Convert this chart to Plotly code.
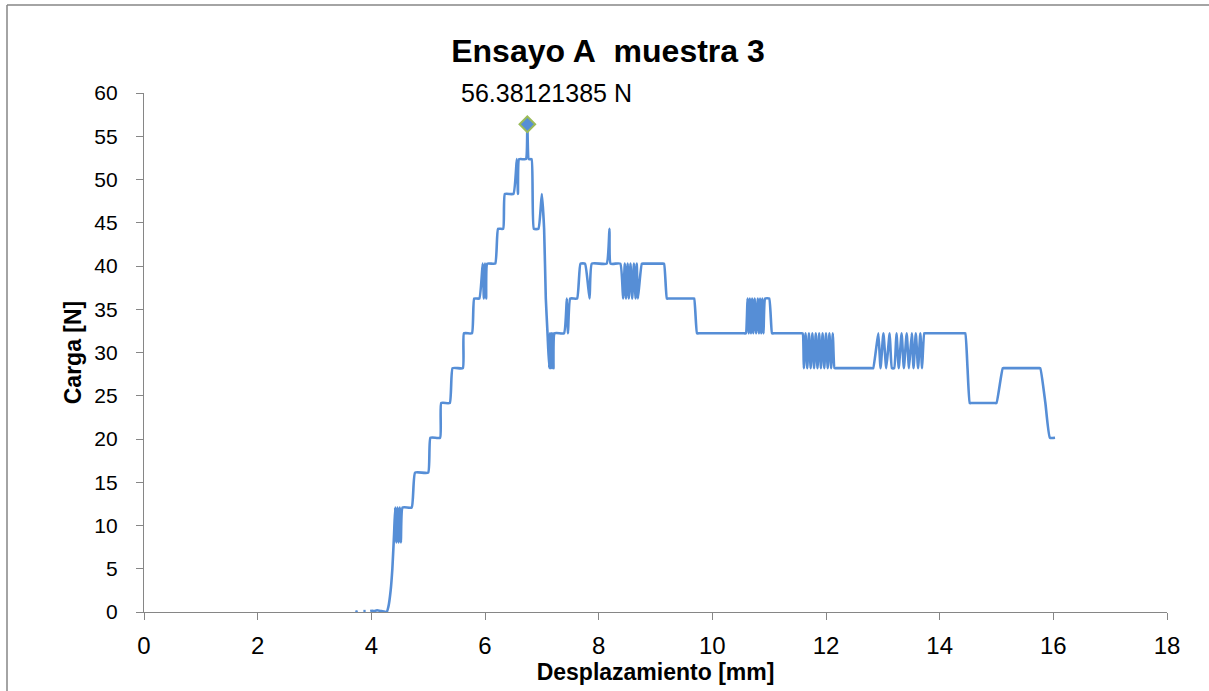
import plotly.graph_objects as go

# Ensayo A, muestra 3: carga frente a desplazamiento (celda de carga con paso de ~4.03 N)
desplazamiento_mm = [
    3.72, 3.76, None, 3.86, 3.90, None, 3.98, 4.02, 4.05, 4.10, 4.18, 4.27,
    4.30, 4.34, 4.37, 4.40, 4.42, 4.44, 4.46, 4.48, 4.50, 4.52, 4.55, 4.71,
    4.77, 5.00, 5.04, 5.21, 5.23, 5.38, 5.43, 5.61, 5.63, 5.77, 5.81, 5.90,
    5.96, 5.98, 6.00, 6.02, 6.04, 6.18, 6.23, 6.32, 6.35, 6.50, 6.56, 6.58,
    6.60, 6.72, 6.745, 6.77, 6.82, 6.86, 6.94, 7.00, 7.04, 7.07, 7.10, 7.13,
    7.145, 7.155, 7.17, 7.18, 7.195, 7.205, 7.225, 7.39, 7.44, 7.46, 7.50, 7.62,
    7.68, 7.76, 7.84, 7.88, 8.14, 8.19, 8.21, 8.38, 8.43, 8.46, 8.48, 8.51,
    8.53, 8.56, 8.59, 8.62, 8.65, 8.67, 8.69, 8.76, 8.80, 9.11, 9.15, 9.20,
    9.23, 9.65, 9.68, 9.73, 9.76, 10.56,
    10.59, 10.62, 10.64, 10.66, 10.68, 10.70, 10.72, 10.745, 10.77, 10.80, 10.82, 10.84,
    10.86, 10.88, 10.90, 10.93, 11.00, 11.05, 11.08, 11.56, 11.59, 11.61, 11.64, 11.67,
    11.70, 11.73, 11.76, 11.79, 11.82, 11.85, 11.88, 11.91, 11.94, 11.97, 12.00, 12.03,
    12.06, 12.09, 12.12, 12.15, 12.18, 12.77, 12.80, 12.83, 12.92, 12.96, 13.01, 13.06,
    13.12, 13.16, 13.20, 13.24, 13.28, 13.33, 13.37, 13.42, 13.46, 13.51, 13.54, 13.58,
    13.62, 13.66, 13.69, 13.73, 13.76, 14.42, 14.45, 14.49, 14.53, 14.56, 14.97, 15.00,
    15.11, 15.14, 15.74, 15.77, 15.86, 15.94, 16.03,
]
carga_N = [
    0.0, 0.1, None, 0.1, 0.1, None, 0.1, 0.15, 0.1, 0.2, 0.1, 0.0,
    0.6, 2.5, 5.0, 9.0, 12.08, 8.05, 12.08, 8.05, 12.08, 8.05, 12.08, 12.08,
    16.11, 16.11, 20.14, 20.14, 24.16, 24.16, 28.19, 28.19, 32.22, 32.22, 36.24, 36.24,
    40.27, 36.24, 40.27, 36.24, 40.27, 40.27, 44.30, 44.30, 48.33, 48.33, 52.35, 48.33,
    52.35, 52.35, 56.38121385, 52.35, 52.35, 44.30, 44.30, 48.33, 44.30, 36.24, 32.22, 28.19,
    32.22, 28.19, 32.22, 28.19, 32.22, 28.19, 32.22, 32.22, 36.24, 32.22, 36.24, 36.24,
    40.27, 40.27, 36.24, 40.27, 40.27, 44.30, 40.27, 40.27, 36.24, 40.27, 36.24, 40.27,
    36.24, 40.27, 36.24, 40.27, 36.24, 40.27, 36.24, 40.27, 40.27, 40.27, 40.27, 36.24,
    36.24, 36.24, 36.24, 32.22, 32.22, 32.22,
    32.22, 36.24, 32.22, 36.24, 32.22, 36.24, 32.22, 36.24, 32.22, 36.24, 32.22, 36.24,
    32.22, 36.24, 32.22, 36.24, 36.24, 32.22, 32.22, 32.22, 32.22, 28.19, 32.22, 28.19,
    32.22, 28.19, 32.22, 28.19, 32.22, 28.19, 32.22, 28.19, 32.22, 28.19, 32.22, 28.19,
    32.22, 28.19, 32.22, 28.19, 28.19, 28.19, 28.19, 28.19, 32.22, 28.19, 32.22, 28.19,
    32.22, 28.19, 28.19, 32.22, 28.19, 32.22, 28.19, 32.22, 28.19, 32.22, 28.19, 32.22,
    28.19, 32.22, 28.19, 32.22, 32.22, 32.22, 32.22, 28.19, 24.16, 24.16, 24.16, 24.16,
    28.19, 28.19, 28.19, 28.19, 24.16, 20.14, 20.14,
]

# Punto de carga máxima
pico_x = [6.745]
pico_y = [56.38121385]
pico_texto = "56.38121385 N"

ticks_x = [0, 2, 4, 6, 8, 10, 12, 14, 16, 18]
ticks_y = [0, 5, 10, 15, 20, 25, 30, 35, 40, 45, 50, 55, 60]

AZUL = "#568ED6"
VERDE = "#9BBB59"
GRIS = "#868686"
NARROW = "Liberation Sans Narrow, Arial Narrow, Liberation Sans, Arial, sans-serif"
NORMAL = "Liberation Sans, Arial, sans-serif"

fig = go.Figure()
fig.add_trace(go.Scatter(
    x=desplazamiento_mm, y=carga_N, mode="lines",
    line=dict(color=AZUL, width=2.6, shape="spline", smoothing=0.4),
    connectgaps=False, showlegend=False, hoverinfo="x+y",
))
fig.add_trace(go.Scatter(
    x=pico_x, y=pico_y, mode="markers",
    marker=dict(symbol="diamond", size=12, color=AZUL, line=dict(color=VERDE, width=2)),
    showlegend=False, cliponaxis=False,
))
fig.add_annotation(
    x=pico_x[0], y=pico_y[0], text=pico_texto, showarrow=False,
    xshift=19, yshift=31, font=dict(family=NORMAL, size=25, color="#000000"),
)

# Marco exterior del gráfico (borde izquierdo y superior)
L, R, T, B = 144, 1167, 93, 612
def px_x(p):
    return (p - L) / (R - L)
def px_y(p):
    return (B - p) / (B - T)
fig.add_shape(type="line", xref="paper", yref="paper",
              x0=px_x(7), x1=px_x(1209), y0=px_y(5), y1=px_y(5),
              line=dict(color=GRIS, width=1.5))
fig.add_shape(type="line", xref="paper", yref="paper",
              x0=px_x(7), x1=px_x(7), y0=px_y(5), y1=px_y(691),
              line=dict(color=GRIS, width=1.5))

fig.update_layout(
    width=1209, height=691, autosize=False,
    margin=dict(l=L, r=1209 - R, t=T, b=691 - B),
    paper_bgcolor="white", plot_bgcolor="white",
    title=dict(text="<b>Ensayo A\u00a0 muestra 3</b>", xref="container", yref="container",
               x=608 / 1209, y=1 - 51 / 691, xanchor="center", yanchor="middle",
               font=dict(family=NARROW, size=32, color="#000000")),
    font=dict(family=NORMAL, color="#000000"),
)
fig.update_xaxes(
    range=[0, 18], tickvals=ticks_x, showgrid=False, zeroline=False,
    showline=True, linecolor=GRIS, linewidth=1.3,
    ticks="outside", ticklen=7, tickcolor=GRIS, tickwidth=1.3,
    ticklabelstandoff=5,
    tickfont=dict(family=NORMAL, size=24),
    title=dict(text="<b>Desplazamiento [mm]</b>", standoff=4,
               font=dict(family=NARROW, size=23)),
)
fig.update_yaxes(
    range=[0, 60], tickvals=ticks_y, showgrid=False, zeroline=False,
    showline=True, linecolor=GRIS, linewidth=1.3,
    ticks="outside", ticklen=7, tickcolor=GRIS, tickwidth=1.3,
    ticklabelstandoff=14,
    tickfont=dict(family=NORMAL, size=21),
    title=dict(text="<b>Carga [N]</b>", standoff=6,
               font=dict(family=NARROW, size=23)),
)

fig.write_html("out.html")
